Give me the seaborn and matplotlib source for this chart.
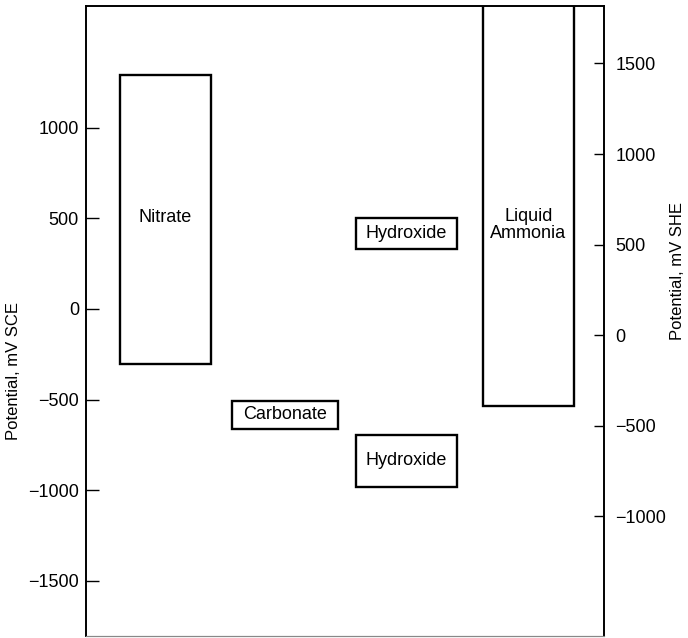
import numpy as np
import pandas as pd
import matplotlib
matplotlib.use("Agg")
import matplotlib.pyplot as plt
import seaborn as sns

# potential windows (mV vs SCE)
solvents = ['Nitrate', 'Carbonate', 'Hydroxide', 'Hydroxide', 'Liquid\nAmmonia']
low_mV = [-305, -508, 330, -982, -535]
high_mV = [1290, -662, 502, -695, 2000]
x_left = [6.6, 28.2, 52.1, 52.1, 76.6]
x_right = [24.1, 48.6, 71.6, 71.6, 94.2]
label_mV = [502, -585, 416, -838, 464]

sce_ticks = [-1500, -1000, -500, 0, 500, 1000]
she_ticks = [-1000, -500, 0, 500, 1000, 1500]
she_offset = 145  # as drawn in the source figure

df = pd.DataFrame({'name': solvents, 'lo': low_mV, 'hi': high_mV,
                   'x0': x_left, 'x1': x_right, 'ylab': label_mV})

sns.set_theme(style='white')
plt.rcParams['font.family'] = ['Liberation Sans', 'DejaVu Sans']

fig = plt.figure(figsize=(6.88, 6.38), dpi=100)
ax = fig.add_axes([0.125, 0.003, 0.753, 0.9877])
ylim = (-1805, 1672)

for _, r in df.iterrows():
    bottom = min(r.lo, r.hi)
    height = abs(r.hi - r.lo)
    ax.bar((r.x0 + r.x1) / 2, height, width=r.x1 - r.x0, bottom=bottom,
           facecolor='white', edgecolor='black', linewidth=1.7, zorder=2)
    ax.text((r.x0 + r.x1) / 2, r.ylab, r['name'], ha='center', va='center',
            fontsize=13, color='black', zorder=3, linespacing=1.0)

ax.set_xlim(0, 100)
ax.set_ylim(*ylim)
ax.set_xticks([])
ax.set_yticks(sce_ticks)
ax.tick_params(axis='y', direction='in', length=9, width=1, pad=5,
               labelsize=13, colors='black', left=True)
ax.set_ylabel('Potential, mV SCE', fontsize=12, color='black')
ax.yaxis.set_label_coords(-0.125, 0.42)

ax2 = ax.twinx()
ax2.set_ylim(ylim[0] + she_offset, ylim[1] + she_offset)
ax2.set_yticks(she_ticks)
ax2.tick_params(axis='y', direction='in', length=7, width=1, pad=8,
                labelsize=13, colors='black', right=True)
ax2.set_ylabel('Potential, mV SHE', fontsize=12, color='black')
ax2.yaxis.set_label_coords(1.127, 0.58)
ax2.grid(False)
ax.grid(False)

for a in (ax, ax2):
    for side in ['left', 'right', 'top']:
        a.spines[side].set_color('black')
        a.spines[side].set_linewidth(1.2)
    a.spines['bottom'].set_color('#888888')
    a.spines['bottom'].set_linewidth(0.8)

fig.savefig('out.png', dpi=100)
